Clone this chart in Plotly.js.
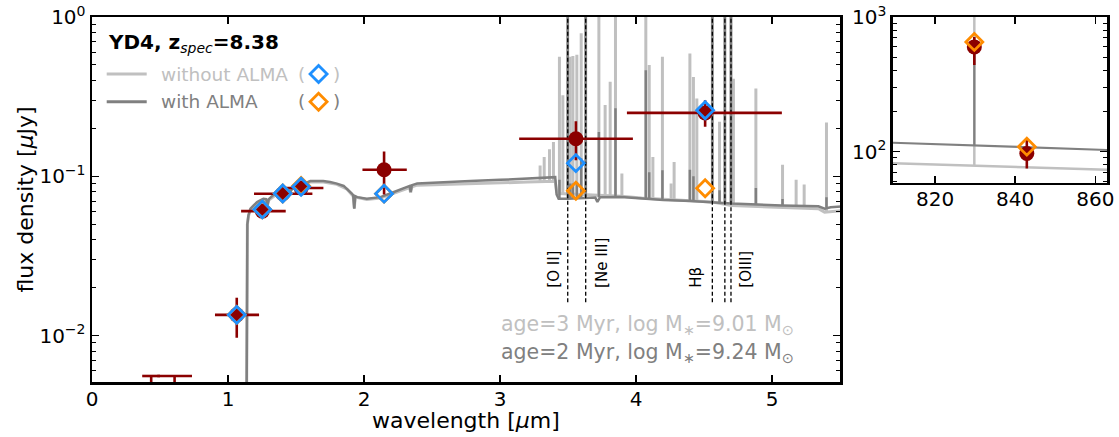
<!DOCTYPE html>
<html><head><meta charset="utf-8">
<script src="https://cdn.plot.ly/plotly-3.0.1.min.js"></script>
<style>html,body{margin:0;padding:0;background:#fff}#chart{width:1119px;height:437px}</style>
</head><body><div id="chart"></div>
<script>
// ---------- model spectra (continuum) ----------
const lightWave = [1.136,1.139,1.142,1.15,1.165,1.214,1.26,1.285,1.29,1.30,1.36,1.44,1.52,1.60,1.70,1.80,1.875,1.92,1.928,1.935,2.02,2.12,2.22,2.335,2.342,2.352,2.39,2.56,2.78,3.0,3.2,3.405,3.415,3.43,3.6,3.89,4.04,4.56,4.70,5.07,5.34,5.385,5.43,5.52];
const lightFlux = [0.003,0.03,0.05,0.056,0.062,0.068,0.0715,0.069,0.066,0.071,0.0775,0.082,0.086,0.092,0.092,0.089,0.083,0.075,0.063,0.074,0.0715,0.073,0.078,0.085,0.079,0.086,0.088,0.089,0.090,0.091,0.092,0.093,0.080,0.078,0.077,0.075,0.073,0.069,0.0655,0.0635,0.0626,0.0596,0.060,0.061];
const darkWave = [1.136,1.139,1.142,1.15,1.165,1.19,1.214,1.24,1.26,1.28,1.29,1.30,1.33,1.36,1.40,1.44,1.455,1.47,1.52,1.56,1.605,1.65,1.70,1.75,1.80,1.85,1.875,1.91,1.92,1.928,1.935,1.95,2.02,2.12,2.22,2.30,2.335,2.342,2.352,2.39,2.56,2.78,3.0,3.2,3.405,3.415,3.43,3.5,3.6,3.70,3.715,3.735,3.89,4.04,4.2,4.4,4.55,4.70,5.07,5.34,5.385,5.43,5.52];
const darkFlux = [0.003,0.03,0.05,0.057,0.0626,0.066,0.0689,0.071,0.0724,0.072,0.066,0.072,0.076,0.0785,0.081,0.083,0.079,0.083,0.087,0.090,0.0934,0.0935,0.0934,0.092,0.090,0.087,0.0836,0.078,0.076,0.0626,0.075,0.074,0.0724,0.074,0.0797,0.085,0.087,0.080,0.088,0.090,0.0918,0.0934,0.095,0.097,0.0988,0.077,0.0724,0.0724,0.073,0.0735,0.069,0.074,0.0741,0.0724,0.071,0.070,0.0689,0.0674,0.0657,0.0649,0.0626,0.064,0.0649];

// ---------- emission lines (wavelength, base, peak) ----------
const lightLineWave = [3.294,3.324,3.363,3.392,3.436,3.461,3.497,3.515,3.535,3.564,3.596,3.629,3.726,3.772,3.809,3.848,3.895,4.071,4.096,4.123,4.193,4.257,4.279,4.395,4.421,4.446,4.560,4.613,4.652,4.697,4.715,4.880,5.076,5.176,5.235,5.399];
const lightLineBase = [0.092,0.092,0.093,0.093,0.078,0.078,0.078,0.077,0.077,0.077,0.077,0.077,0.076,0.076,0.075,0.075,0.075,0.073,0.073,0.072,0.072,0.071,0.071,0.070,0.070,0.070,0.069,0.068,0.067,0.0655,0.0655,0.064,0.0635,0.063,0.063,0.060];
const lightLinePeak = [0.117,0.132,0.148,0.164,0.563,0.323,2,0.563,0.57,0.58,0.79,2,2,0.28,0.392,2,0.104,2,0.50,0.132,0.563,0.09,0.123,0.59,0.42,0.308,2,0.22,2,2,0.41,0.356,0.118,0.0953,0.0887,0.218];
const darkLineWave = [3.436,3.497,3.515,3.535,3.564,3.596,3.629,3.726,3.848,4.071,4.096,4.193,4.395,4.421,4.560,4.613,4.652,4.697,4.880,5.076,5.399];
const darkLineBase = [0.0724,0.0724,0.0724,0.0724,0.073,0.073,0.073,0.0735,0.074,0.0724,0.0724,0.071,0.070,0.070,0.0689,0.0685,0.068,0.0674,0.066,0.0657,0.064];
const darkLinePeak = [0.095,2,0.09,0.09,0.092,0.13,2,0.19,0.267,0.464,0.106,0.109,0.11,0.10,2,0.0817,2,2,0.0845,0.072,0.074];

// ---------- marked line positions ----------
const markWave = [3.497,3.629,4.560,4.652,4.697];
const markLow = [0.0162,0.0162,0.0162,0.0162,0.0162];
const markHigh = [2,2,2,2,2];
const markLabels = ['[O II]','[Ne III]','Hβ','[OIII]'];
const markLabelX = [3.39,3.748,4.434,4.801];

// ---------- photometry ----------
const photWave = [1.064,1.252,1.402,1.537,2.147,3.557,4.507];
const photFlux = [0.0135,0.0605,0.0778,0.0845,0.110,0.172,0.25];
const photErrLo = [0.0038,0.005,0.006,0.006,0.033,0.046,0.045];
const photErrHi = [0.0038,0.005,0.006,0.006,0.033,0.05,0.05];
const photXLo = [0.16,0.156,0.211,0.13,0.159,0.417,0.575];
const photXHi = [0.164,0.172,0.218,0.164,0.167,0.419,0.564];
const ulWave = [0.435,0.607];
const ulFlux = [0.00558,0.00558];
const ulXLo = [0.066,0.127];
const ulXHi = [0.065,0.128];
const ulDown = [0.004,0.004];
const modelNoAlma = [0.0135,0.062,0.078,0.086,0.0778,0.121,0.26];
const modelAlma = [0.0135,0.062,0.078,0.087,0.0778,0.0812,0.0841];

// ---------- ALMA inset ----------
const insetWave = [809.5,862.9];
const insetDark = [116.6,103];
const insetLight = [82,73.6];
const insetLineWave = [829.8];
const insetDarkBase = [111.4];
const insetDarkPeak = [650];
const insetLightBase = [79];
const insetLightPeak = [5000];
const almaWave = [829.8,842.9];
const almaFlux = [600,97];
const almaErrHi = [110,25];
const almaErrLo = [160,22];
const almaModel = [653,109];

const RED='#8b0000', BLUE='#1e90ff', ORANGE='#ff8c00', LG='#c0c0c0', DG='#808080';

function spikes(w,b,p){const x=[],y=[];for(let i=0;i<w.length;i++){x.push(w[i],w[i],null);y.push(b[i],p[i],null);}return {x,y};}

const ls=spikes(lightLineWave,lightLineBase,lightLinePeak);
const ds=spikes(darkLineWave,darkLineBase,darkLinePeak);
const ms=spikes(markWave,markLow,markHigh);
const ils=spikes(insetLineWave,insetLightBase,insetLightPeak);
const ids=spikes(insetLineWave,insetDarkBase,insetDarkPeak);

const traces=[
 {x:lightWave,y:lightFlux,mode:'lines',line:{color:LG,width:3},hoverinfo:'skip'},
 {x:ls.x,y:ls.y,mode:'lines',line:{color:LG,width:3},hoverinfo:'skip'},
 {x:darkWave,y:darkFlux,mode:'lines',line:{color:DG,width:2.5},hoverinfo:'skip'},
 {x:ds.x,y:ds.y,mode:'lines',line:{color:DG,width:2.5},hoverinfo:'skip'},
 {x:ms.x,y:ms.y,mode:'lines',line:{color:'black',width:1.3,dash:'4px,2.5px'},hoverinfo:'skip'},
 {x:ulWave,y:ulFlux,mode:'markers',marker:{size:1,color:'rgba(0,0,0,0)'},
  error_x:{type:'data',symmetric:false,array:ulXHi,arrayminus:ulXLo,color:RED,thickness:2.6,width:0},
  error_y:{type:'data',symmetric:false,array:[0,0],arrayminus:ulDown,color:RED,thickness:2.6,width:0}},
 {x:photWave,y:photFlux,mode:'markers',marker:{symbol:'circle',size:15,color:RED},
  error_x:{type:'data',symmetric:false,array:photXHi,arrayminus:photXLo,color:RED,thickness:2.6,width:0},
  error_y:{type:'data',symmetric:false,array:photErrHi,arrayminus:photErrLo,color:RED,thickness:2.6,width:0}},
 {x:photWave,y:modelAlma,mode:'markers',marker:{symbol:'diamond-open',size:13,color:ORANGE,line:{width:2.8,color:ORANGE}}},
 {x:photWave,y:modelNoAlma,mode:'markers',marker:{symbol:'diamond-open',size:13,color:BLUE,line:{width:2.8,color:BLUE}}},
 // inset
 {x:insetWave,y:insetLight,xaxis:'x2',yaxis:'y2',mode:'lines',line:{color:LG,width:2.5}},
 {x:ils.x,y:ils.y,xaxis:'x2',yaxis:'y2',mode:'lines',line:{color:LG,width:2.5}},
 {x:insetWave,y:insetDark,xaxis:'x2',yaxis:'y2',mode:'lines',line:{color:DG,width:2.2}},
 {x:ids.x,y:ids.y,xaxis:'x2',yaxis:'y2',mode:'lines',line:{color:DG,width:2.2}},
 {x:almaWave,y:almaFlux,xaxis:'x2',yaxis:'y2',mode:'markers',marker:{symbol:'circle',size:15,color:RED},
  error_y:{type:'data',symmetric:false,array:almaErrHi,arrayminus:almaErrLo,color:RED,thickness:2.6,width:0}},
 {x:almaWave,y:almaModel,xaxis:'x2',yaxis:'y2',mode:'markers',marker:{symbol:'diamond-open',size:13,color:ORANGE,line:{width:2.8,color:ORANGE}}}
];

// geometry helpers (pixel -> paper)
const ML=92, MR=12.3, MT=17, MB=55, W=1119, H=437;
const PW=W-ML-MR, PH=H-MT-MB;
const px=v=>(v-ML)/PW, py=v=>(H-MB-v)/PH;

function minorLog(decs){const o=[];decs.forEach(d=>{for(let k=2;k<=9;k++)o.push(+(d*k).toPrecision(3));});return o;}

const axBase={ticks:'inside',tickcolor:'black',tickwidth:1.5,ticklen:7,showline:true,linecolor:'black',linewidth:2.5,mirror:'ticks',showgrid:false,zeroline:false,tickfont:{family:'DejaVu Sans',size:20,color:'black'}};

function diamond(cx,cy,r,color){
  const x0=px(cx),y0=py(cy),dx=r/PW,dy=r/PH;
  return {type:'path',xref:'paper',yref:'paper',path:`M ${x0},${y0+dy} L ${x0+dx},${y0} L ${x0},${y0-dy} L ${x0-dx},${y0} Z`,line:{color:color,width:2.8}};
}

const layout={
 width:W,height:H,margin:{l:ML,r:MR,t:MT,b:MB},paper_bgcolor:'white',plot_bgcolor:'white',showlegend:false,
 font:{family:'DejaVu Sans',size:20,color:'black'},
 xaxis:Object.assign({},axBase,{domain:[0,px(840)],range:[0,5.5],tickvals:[0,1,2,3,4,5],anchor:'y',ticklabelstandoff:-3}),
 yaxis:Object.assign({},axBase,{domain:[0,1],type:'log',range:[-2.291,0],tickvals:[0.01,0.1,1],
   ticktext:['10<sup>−2</sup>','10<sup>−1</sup>','10<sup>0</sup>'],anchor:'x',
   minor:{ticks:'inside',ticklen:4,tickwidth:1,tickcolor:'black',tickvals:minorLog([0.001,0.01,0.1]),showgrid:false},
   title:{text:'flux density [<i>μ</i>Jy]',font:{family:'DejaVu Sans',size:22,color:'black'},standoff:0}}),
 xaxis2:Object.assign({},axBase,{domain:[px(892.7),1],range:[809.5,862.9],tickvals:[820,840,860],anchor:'y2',ticklabelstandoff:-3}),
 yaxis2:Object.assign({},axBase,{domain:[py(182.7),1],type:'log',range:[1.77,3],tickvals:[100,1000],
   ticktext:['10<sup>2</sup>','10<sup>3</sup>'],anchor:'x2',
   minor:{ticks:'inside',ticklen:4,tickwidth:1,tickcolor:'black',tickvals:minorLog([10,100]),showgrid:false}}),
 shapes:[
  {type:'line',xref:'paper',yref:'paper',x0:px(106.7),x1:px(146.7),y0:py(74),y1:py(74),line:{color:LG,width:3}},
  {type:'line',xref:'paper',yref:'paper',x0:px(106.7),x1:px(146.7),y0:py(101.7),y1:py(101.7),line:{color:DG,width:3}},
  diamond(318.5,74,8.5,BLUE),
  diamond(318.5,101.7,8.5,ORANGE)
 ],
 annotations:[
  {xref:'paper',yref:'paper',x:px(466),y:py(420),xanchor:'center',yanchor:'middle',showarrow:false,
   text:'wavelength [<i>μ</i>m]',font:{family:'DejaVu Sans',size:22,color:'black'}},
  {xref:'paper',yref:'paper',x:px(106),y:py(43),xanchor:'left',yanchor:'middle',showarrow:false,
   text:'<b>YD4, z</b><sub><i>spec</i></sub><b>=8.38</b>',font:{family:'DejaVu Sans',size:20,color:'black'}},
  {xref:'paper',yref:'paper',x:px(159),y:py(74),xanchor:'left',yanchor:'middle',showarrow:false,
   text:'without ALMA',font:{family:'DejaVu Sans',size:18.5,color:LG}},
  {xref:'paper',yref:'paper',x:px(159),y:py(101.7),xanchor:'left',yanchor:'middle',showarrow:false,
   text:'with ALMA',font:{family:'DejaVu Sans',size:18.5,color:DG}},
  {xref:'paper',yref:'paper',x:px(318.5),y:py(74),xanchor:'center',yanchor:'middle',showarrow:false,
   text:'(\u2003\u2002)',font:{family:'DejaVu Sans',size:18.5,color:LG}},
  {xref:'paper',yref:'paper',x:px(318.5),y:py(101.7),xanchor:'center',yanchor:'middle',showarrow:false,
   text:'(\u2003\u2002)',font:{family:'DejaVu Sans',size:18.5,color:DG}},
  {xref:'paper',yref:'paper',x:px(796),y:py(325),xanchor:'right',yanchor:'middle',showarrow:false,
   text:'age=3 Myr, log M<sub>∗</sub>=9.01 M<sub>⊙</sub>',font:{family:'DejaVu Sans',size:20.5,color:LG}},
  {xref:'paper',yref:'paper',x:px(796),y:py(353),xanchor:'right',yanchor:'middle',showarrow:false,
   text:'age=2 Myr, log M<sub>∗</sub>=9.24 M<sub>⊙</sub>',font:{family:'DejaVu Sans',size:20.5,color:DG}}
 ]
};
markLabels.forEach((t,i)=>{
  layout.annotations.push({xref:'x',yref:'paper',x:markLabelX[i],y:py(290),xanchor:'center',yanchor:'bottom',
    textangle:-90,showarrow:false,text:t,font:{family:'DejaVu Sans',size:15,color:'black'}});
});

Plotly.newPlot('chart',traces,layout,{staticPlot:true,displayModeBar:false});
</script></body></html>
